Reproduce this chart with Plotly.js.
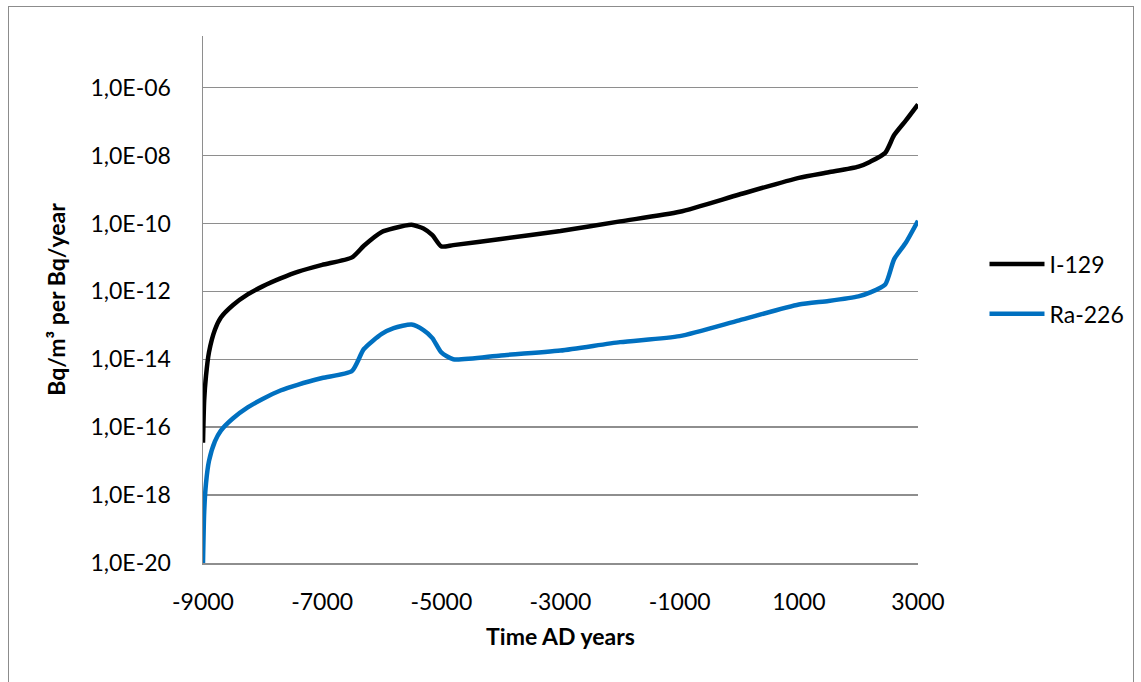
<!DOCTYPE html>
<html>
<head>
<meta charset="utf-8">
<script src="https://cdn.plot.ly/plotly-3.0.1.min.js"></script>
<style>
  html, body { margin: 0; padding: 0; overflow: hidden; background: #fff; }
  #chart { width: 1141px; height: 682px; }
  #frame { position: absolute; left: 8px; top: 6px; width: 1124px; height: 700px;
           border: 1.5px solid #8c8c8c; pointer-events: none; }
</style>
</head>
<body>
<div id="chart"></div>
<div id="frame"></div>
<script>
const years = [-9000, -8980, -8950, -8900, -8800, -8700, -8500, -8250, -8000, -7700, -7400, -7000,
               -6500, -6300, -6000, -5800, -5500, -5300, -5150, -5000, -4800, -4000, -3000, -2000,
               -1000, 0, 1000, 1500, 2000, 2200, 2450, 2600, 2800, 3000];

const i129 = [3.5e-17, 6.3e-16, 3.2e-15, 1.6e-14, 7.4e-14, 1.7e-13, 3.9e-13, 8.1e-13, 1.4e-12, 2.4e-12, 3.8e-12, 6.0e-12,
              1.0e-11, 2.2e-11, 5.6e-11, 7.2e-11, 9.1e-11, 7.1e-11, 4.5e-11, 2.1e-11, 2.3e-11, 3.5e-11, 6.0e-11, 1.15e-10,
              2.2e-10, 7.1e-10, 2.2e-9, 3.2e-9, 4.7e-9, 6.6e-9, 1.2e-8, 4.0e-8, 1.1e-7, 3.2e-7];

const ra226 = [1.0e-20, 3.2e-19, 2.2e-18, 1.0e-17, 3.8e-17, 7.9e-17, 1.8e-16, 3.8e-16, 6.8e-16, 1.2e-15, 1.8e-15, 2.8e-15,
               4.5e-15, 2.0e-14, 5.6e-14, 8.3e-14, 1.05e-13, 7.2e-14, 4.2e-14, 1.6e-14, 1.0e-14, 1.3e-14, 1.8e-14, 3.2e-14,
               4.8e-14, 1.4e-13, 4.1e-13, 5.2e-13, 7.1e-13, 9.3e-13, 1.6e-12, 8.9e-12, 2.8e-11, 1.2e-10];

const seriesNames = ['I-129', 'Ra-226'];
const xTickVals = [-9000, -7000, -5000, -3000, -1000, 1000, 3000];
const xTickText = ['-9000', '-7000', '-5000', '-3000', '-1000', '1000', '3000'];
const yTickVals = [1e-20, 1e-18, 1e-16, 1e-14, 1e-12, 1e-10, 1e-8, 1e-6];
const yTickText = ['1,0E-20', '1,0E-18', '1,0E-16', '1,0E-14', '1,0E-12', '1,0E-10', '1,0E-08', '1,0E-06'];

const FONT = 'Lato, "Open Sans", sans-serif';
const GRID = '#8e8e8e';

const traces = [
  { x: years, y: i129, name: seriesNames[0], type: 'scatter', mode: 'lines', legendgroup: 'a',
    line: { color: '#000000', width: 4.5, shape: 'spline', smoothing: 0.6 } },
  { x: years, y: ra226, name: seriesNames[1], type: 'scatter', mode: 'lines', legendgroup: 'b',
    line: { color: '#0070C0', width: 4.5, shape: 'spline', smoothing: 0.6 } }
];

const layout = {
  width: 1141, height: 682,
  margin: { l: 203, r: 218, t: 36, b: 119 },
  paper_bgcolor: 'rgba(0,0,0,0)', plot_bgcolor: 'rgba(0,0,0,0)',
  font: { family: FONT, size: 23, color: '#000' },
  showlegend: true,
  legend: { x: 1.093, y: 0.52, xanchor: 'left', yanchor: 'middle', tracegroupgap: 17,
            itemwidth: 55, font: { family: FONT, size: 23, color: '#000' }, bgcolor: 'rgba(0,0,0,0)' },
  xaxis: {
    range: [-9000, 3000], tickvals: xTickVals, ticktext: xTickText, showgrid: false, zeroline: false,
    showline: true, linecolor: GRID, linewidth: 1.5, ticks: '', ticklabelstandoff: 18,
    tickfont: { family: FONT, size: 23, color: '#000' },
    title: { text: '<b>Time AD years</b>', font: { family: FONT, size: 23, color: '#000' }, standoff: 15 }
  },
  yaxis: {
    type: 'log', range: [-20, -4.48], tickvals: yTickVals, ticktext: yTickText,
    showgrid: true, gridcolor: GRID, gridwidth: 1.5, zeroline: false,
    showline: true, linecolor: GRID, linewidth: 1.5, ticks: '', ticklabelstandoff: 26,
    tickfont: { family: FONT, size: 23, color: '#000' },
    title: { text: '<b>Bq/m³ per Bq/year</b>', font: { family: FONT, size: 23, color: '#000' }, standoff: 18 }
  }
};

Plotly.newPlot('chart', traces, layout, { displayModeBar: false, staticPlot: true });
</script>
</body>
</html>
